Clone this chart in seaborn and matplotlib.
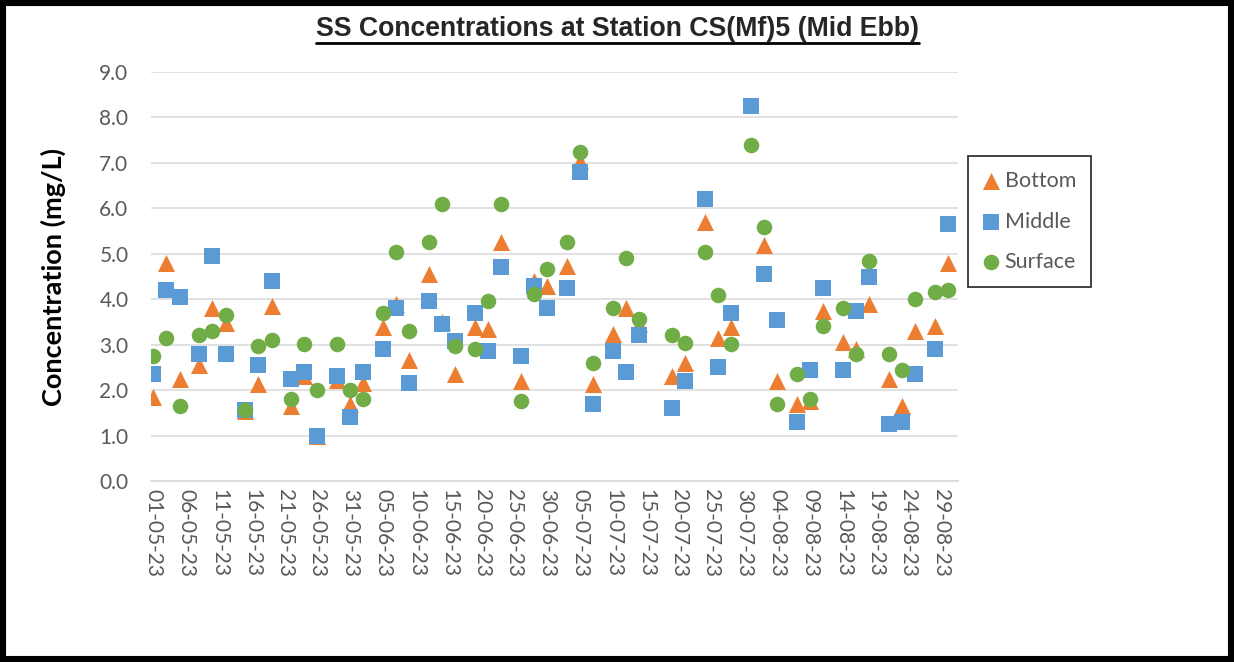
import numpy as np
import pandas as pd
import matplotlib
matplotlib.use("Agg")
import matplotlib.pyplot as plt
import matplotlib.dates as mdates
from matplotlib.lines import Line2D
from matplotlib.patches import Rectangle
import seaborn as sns

# Sampling dates (Mon/Wed/Fri, May-Aug 2023)
dates = [
    "2023-05-01", "2023-05-03", "2023-05-05", "2023-05-08", "2023-05-10", "2023-05-12",
    "2023-05-15", "2023-05-17", "2023-05-19", "2023-05-22", "2023-05-24", "2023-05-26",
    "2023-05-29", "2023-05-31",
    "2023-06-02", "2023-06-05", "2023-06-07", "2023-06-09", "2023-06-12", "2023-06-14",
    "2023-06-16", "2023-06-19", "2023-06-21", "2023-06-23", "2023-06-26", "2023-06-28",
    "2023-06-30",
    "2023-07-03", "2023-07-05", "2023-07-07", "2023-07-10", "2023-07-12", "2023-07-14",
    "2023-07-19", "2023-07-21", "2023-07-24", "2023-07-26", "2023-07-28", "2023-07-31",
    "2023-08-02", "2023-08-04", "2023-08-07", "2023-08-09", "2023-08-11", "2023-08-14",
    "2023-08-16", "2023-08-18", "2023-08-21", "2023-08-23", "2023-08-25", "2023-08-28",
    "2023-08-30",
]

bottom = [
    1.84, 4.79, 2.24, 2.55, 3.80, 3.47, 1.55, 2.14, 3.85, 1.64, 2.30, 1.00, 2.22, 1.70,
    2.16, 3.39, 3.90, 2.66, 4.55, 3.50, 2.35, 3.39, 3.34, 5.25, 2.20, 4.40, 4.29,
    4.74, 7.05, 2.14, 3.24, 3.80, 3.45, 2.30, 2.60, 5.70, 3.15, 3.39, np.nan,
    5.19, 2.19, 1.70, 1.75, 3.75, 3.05, 2.90, 3.90, 2.24, 1.64, 3.29, 3.40, 4.79,
]
middle = [
    2.35, 4.20, 4.05, 2.80, 4.95, 2.80, 1.56, 2.55, 4.40, 2.25, 2.40, 1.00, 2.30, 1.40,
    2.40, 2.90, 3.80, 2.15, 3.96, 3.46, 3.07, 3.70, 2.85, 4.70, 2.75, 4.29, 3.80,
    4.25, 6.80, 1.70, 2.85, 2.40, 3.21, 1.60, 2.20, 6.20, 2.50, 3.70, 8.25,
    4.55, 3.55, 1.30, 2.45, 4.25, 2.45, 3.75, 4.50, 1.25, 1.30, 2.35, 2.90, 5.66,
]
surface = [
    2.75, 3.15, 1.65, 3.21, 3.30, 3.65, 1.56, 2.96, 3.10, 1.80, 3.01, 2.00, 3.01, 2.00,
    1.80, 3.70, 5.05, 3.30, 5.25, 6.10, 2.96, 2.90, 3.96, 6.10, 1.75, 4.11, 4.66,
    5.25, 7.25, 2.60, 3.80, 4.90, 3.56, 3.21, 3.04, 5.05, 4.10, 3.01, 7.40,
    5.60, 1.70, 2.35, 1.80, 3.40, 3.80, 2.80, 4.85, 2.80, 2.45, 4.00, 4.15, 4.20,
]

y_ticks = [0, 1, 2, 3, 4, 5, 6, 7, 8, 9]
title = "SS Concentrations at Station CS(Mf)5 (Mid Ebb)"
y_label = "Concentration (mg/L)"

df = pd.DataFrame({"Date": pd.to_datetime(dates),
                   "Bottom": bottom, "Middle": middle, "Surface": surface})

sns.set_theme(style="white")
plt.rcParams["font.family"] = ["Lato", "DejaVu Sans"]

W, H = 1234, 662
fig = plt.figure(figsize=(W / 100, H / 100), dpi=100)
fig.patch.set_facecolor("white")

left, right, top, bot = 150.7, 957.7, 72.0, 481.0
ax = fig.add_axes([left / W, 1 - bot / H, (right - left) / W, (bot - top) / H])

series = [
    ("Bottom", "^", "#ED7D31", 150),
    ("Middle", "s", "#5B9BD5", 135),
    ("Surface", "o", "#70AD47", 125),
]
for name, mk, col, size in series:
    sns.scatterplot(data=df, x="Date", y=name, marker=mk, color=col, s=size,
                    linewidth=0, ax=ax, label=name, zorder=3)

ax.set_ylim(0, 9)
ax.set_yticks(y_ticks)
ax.yaxis.set_major_formatter(matplotlib.ticker.FormatStrFormatter("%.1f"))
x0 = pd.Timestamp("2023-05-01") - pd.Timedelta(hours=9.6)
x1 = pd.Timestamp("2023-08-31") + pd.Timedelta(hours=12)
ax.set_xlim(x0, x1)
ticks = pd.date_range("2023-05-01", "2023-08-29", freq="5D")
ax.set_xticks(ticks)
ax.xaxis.set_major_formatter(mdates.DateFormatter("%d-%m-%y"))

ax.grid(axis="y", color="#D9D9D9", linewidth=1.1)
ax.grid(axis="x", visible=False)
ax.set_axisbelow(True)
for s in ["top", "right", "left"]:
    ax.spines[s].set_visible(False)
ax.spines["bottom"].set_color("#D9D9D9")
ax.spines["bottom"].set_linewidth(1.1)

ax.tick_params(axis="y", length=0, pad=16, labelsize=15, labelcolor="#595959")
ax.tick_params(axis="x", length=0, pad=6, labelsize=15, labelcolor="#595959")
for lbl in ax.get_xticklabels():
    lbl.set_rotation(-90)
    lbl.set_ha("center")
    lbl.set_va("top")

ax.set_xlabel("")
ax.set_ylabel(y_label, fontsize=19.5, fontweight="bold", color="black")
ax.yaxis.set_label_coords((66 - left) / (right - left), 0.5)

ax.get_legend().remove()
handles, labels = ax.get_legend_handles_labels()
leg = fig.legend(handles, labels, loc="upper left",
                 bbox_to_anchor=(968 / W, 1 - 156 / H), frameon=True,
                 fancybox=False, fontsize=15.5, labelspacing=0.95,
                 handlelength=0.7, handletextpad=0.3, borderpad=0.7,
                 borderaxespad=0, labelcolor="#595959")
leg.get_frame().set_edgecolor("black")
leg.get_frame().set_linewidth(1.3)

ttl = fig.text(617 / W, 1 - 29 / H, title, ha="center", va="center",
               fontsize=19.2, fontweight="bold", family="Liberation Sans")

# Underline the title
fig.canvas.draw()
bb = ttl.get_window_extent(fig.canvas.get_renderer())
uy = bb.y0 - 1
fig.add_artist(Line2D([bb.x0 / W, bb.x1 / W], [uy / H, uy / H],
                      transform=fig.transFigure, color="black", linewidth=2.0))

# Outer frame
fig.add_artist(Rectangle((3 / W, 3 / H), 1 - 6 / W, 1 - 6 / H,
                         transform=fig.transFigure, fill=False,
                         edgecolor="black", linewidth=4.4))

fig.savefig("out.png", dpi=100)
